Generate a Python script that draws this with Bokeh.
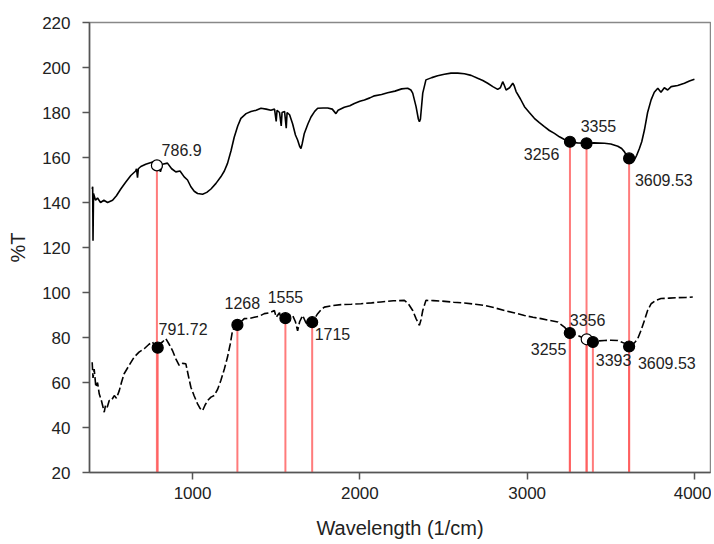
from bokeh.plotting import figure
from bokeh.models import ColumnDataSource, FixedTicker, Range1d
from bokeh.core.properties import value
from bokeh.embed import file_html
from bokeh.resources import INLINE

# ---- upper spectrum (solid) ----
wn_top = [400, 403, 405, 408, 420, 432, 450, 470, 492, 522, 545, 571, 600, 631, 660, 665, 671, 676,
          691, 720, 761, 787, 800, 808, 820, 850, 875, 900, 925, 950, 970, 990, 1010, 1030, 1060,
          1085, 1110, 1140, 1169, 1190, 1209, 1230, 1249, 1270, 1289, 1320, 1349, 1380, 1409, 1440,
          1468, 1490, 1500, 1505, 1520, 1530, 1535, 1550, 1560, 1565, 1580, 1598, 1615, 1628, 1640,
          1648, 1655, 1668, 1690, 1708, 1730, 1748, 1780, 1808, 1835, 1857, 1870, 1907, 1940, 1967,
          2000, 2027, 2060, 2087, 2130, 2166, 2210, 2250, 2286, 2305, 2316, 2336, 2350, 2356, 2362,
          2376, 2395, 2430, 2465, 2505, 2545, 2585, 2625, 2665, 2704, 2735, 2764, 2795, 2824, 2840,
          2854, 2864, 2874, 2895, 2914, 2922, 2934, 2960, 2984, 3013, 3043, 3073, 3103, 3133, 3163,
          3193, 3223, 3256, 3300, 3356, 3400, 3462, 3500, 3542, 3565, 3582, 3600, 3609, 3625, 3641,
          3655, 3671, 3685, 3701, 3720, 3741, 3760, 3781, 3800, 3820, 3840, 3861, 3900, 3940, 3970,
          4000]
t_top = [146, 147, 123, 144, 141, 142, 140, 141, 140, 141, 143, 146, 149, 152, 154, 155, 151, 155,
         156, 157, 158, 157, 156, 153.6, 157, 157.5, 155, 153.6, 154, 151.4, 150, 147, 145, 144, 143.7,
         144.5, 146, 148.5, 151.4, 154, 157.4, 163, 169, 174, 177.4, 179.5, 180.4, 181, 181.9, 181.5,
         181, 181.5, 176, 181, 180, 174, 180, 180.5, 173, 180, 179, 175, 170, 167.8, 165,
         164, 166, 170.7, 175, 178, 180.5, 181.9, 182, 182, 181.5, 179.5, 181, 182.3, 183, 184,
         185, 185.6, 186.5, 187.4, 188, 188.8, 189.5, 190.5, 190.8, 190, 188.6, 182.6, 177, 175.9, 177,
         188.6, 194.5, 195.5, 196.3, 197, 197.5, 197.5, 197.2, 196.5, 195.2, 194.2, 193, 191.5, 190.3, 191,
         193.7, 192, 190, 191, 193, 192, 189.3, 186, 182.6, 180, 177.4, 175.5, 173.7, 172, 170.7,
         169.2, 168, 167, 166.5, 166.3, 166.5, 166.3, 166, 165, 164, 162.5, 160, 159.6, 158, 158.9,
         161, 164, 167, 172.2, 180, 185.6, 189, 190.8, 189, 191, 190, 191.5, 192, 193, 194,
         194.8]

# ---- lower spectrum (dashed) ----
wn_bot = [400, 405, 412, 422, 432, 442, 455, 465, 472, 480, 490, 502, 515, 532, 545, 562, 575, 591,
          620, 651, 680, 711, 740, 761, 781, 800, 820, 840, 860, 880, 900, 920, 940, 960, 975, 990,
          1010, 1030, 1045, 1060, 1075, 1090, 1110, 1130, 1150, 1169, 1190, 1209, 1225, 1239, 1255,
          1268, 1290, 1309, 1340, 1369, 1400, 1429, 1460, 1489, 1500, 1520, 1530, 1540, 1555, 1575,
          1598, 1615, 1628, 1640, 1658, 1675, 1688, 1715, 1730, 1748, 1770, 1788, 1840, 1887, 1950,
          2007, 2070, 2126, 2200, 2266, 2290, 2316, 2336, 2356, 2366, 2376, 2395, 2440, 2485, 2560,
          2625, 2690, 2744, 2800, 2864, 2920, 2984, 3035, 3083, 3135, 3183, 3223, 3255, 3303, 3356,
          3393, 3430, 3462, 3500, 3542, 3580, 3609.53, 3640, 3661, 3680, 3701, 3720, 3741, 3770, 3800,
          3850, 3900, 3950, 3990]
t_bot = [69, 62, 66, 58, 60, 55, 52, 49, 46.8, 50, 49, 52, 52, 54.2, 53, 56.4, 60, 63.9,
         67.5, 71.3, 73.5, 75, 77, 78, 75, 77, 78, 79.5, 77, 74.2, 70.5, 67.6, 68.5, 68.3, 63, 57.9,
         54, 50.5, 48.5, 47.5, 50, 52, 53.5, 54.2, 57, 60.9, 66, 71.3, 77, 83.1, 85,
         85.4, 87, 88.4, 88.5, 89, 89.5, 90.6, 91, 92, 89, 91, 87.5, 90, 88.4, 90,
         89.8, 87, 83, 87, 89.8, 87, 85.4, 86.6, 88.5, 90.6, 92.5, 93.5, 94.2, 94.6, 94.8,
         95, 95.4, 95.8, 96.3, 96.5, 95, 92, 88.4, 85.4, 88, 92, 96.5, 96.4, 96.2, 95.7,
         95.3, 94.8, 94.3, 93.3, 92, 91, 89.8, 89, 88.4, 87.6, 86.9, 84.6, 82, 80.9, 79.1,
         78, 78.5, 78.7, 78.8, 78.7, 77.5, 76, 77.5, 79.5, 83, 87.6, 92, 95, 96.5, 97.3,
         97.5, 97.7, 97.8, 98]

# ---- marked peaks ----
mk_top_x = [786.9, 3256, 3355, 3609.53]
mk_top_y = [156.5, 167, 166.3, 159.6]
mk_top_fill = ["white", "black", "black", "black"]

mk_bot_x = [791.72, 1268, 1555, 1715, 3255, 3356, 3393, 3609.53]
mk_bot_y = [75.5, 85.6, 88.6, 86.8, 82, 79.2, 78, 76]
mk_bot_fill = ["black", "black", "black", "black", "black", "white", "black", "black"]

# ---- peak labels ----
lab_text = ["786.9", "3256", "3355", "3609.53", "791.72", "1268", "1555", "1715",
            "3255", "3356", "3393", "3609.53"]
lab_x = [815, 2980, 3320, 3644, 797, 1191, 1449, 1730, 3022, 3255, 3410, 3662]
lab_y = [163.3, 161.5, 174, 150, 84, 95.2, 98, 81.4, 75, 87.6, 69.8, 68.5]

x_ticks = [1000, 2000, 3000, 4000]
y_ticks = [20, 40, 60, 80, 100, 120, 140, 160, 180, 200, 220]

FONT = "Liberation Sans"

p = figure(width=711, height=543, output_backend="svg", toolbar_location=None,
           x_range=Range1d(384, 4096), y_range=Range1d(20, 220),
           min_border_left=89, min_border_right=1, min_border_top=22, min_border_bottom=71)
p.xgrid.visible = False
p.ygrid.visible = False
p.outline_line_color = "#888888"
p.outline_line_width = 1.5
p.background_fill_color = "white"
p.border_fill_color = "white"

# red drop lines
all_x = mk_top_x + mk_bot_x
all_y = mk_top_y + mk_bot_y
p.segment(x0=all_x, y0=[20] * len(all_x), x1=all_x, y1=all_y,
          line_color="#ff5a5a", line_width=2, line_alpha=0.8)

p.line(wn_top, t_top, line_color="black", line_width=1.6)
p.line(wn_bot, t_bot, line_color="black", line_width=1.6, line_dash="8 3")

p.scatter(mk_top_x, mk_top_y, size=11, fill_color=mk_top_fill, line_color="black", line_width=1.2)
p.scatter(mk_bot_x, mk_bot_y, size=11, fill_color=mk_bot_fill, line_color="black", line_width=1.2)

src = ColumnDataSource(dict(x=lab_x, y=lab_y, t=lab_text))
p.text(x="x", y="y", text="t", source=src, text_font=value(FONT), text_font_size="16px",
       text_color="#222222", text_align="left", text_baseline="middle")

for ax in (p.xaxis[0], p.yaxis[0]):
    ax.axis_line_color = "#555555"
    ax.axis_line_width = 1.5
    ax.major_tick_line_color = "#555555"
    ax.major_tick_line_width = 1.5
    ax.major_tick_in = 0
    ax.major_tick_out = 7
    ax.minor_tick_line_color = None
    ax.major_label_text_font = FONT
    ax.major_label_text_font_size = "17px"
    ax.major_label_text_color = "#222222"
    ax.axis_label_text_font = FONT
    ax.axis_label_text_font_size = "20px"
    ax.axis_label_text_font_style = "normal"
    ax.axis_label_text_color = "#222222"

p.xaxis.ticker = FixedTicker(ticks=x_ticks)
p.yaxis.ticker = FixedTicker(ticks=y_ticks)
p.xaxis.axis_label = "Wavelength (1/cm)"
p.yaxis.axis_label = "%T"
p.xaxis.major_label_standoff = 7
p.xaxis.axis_label_standoff = 15
p.yaxis.major_label_standoff = 12
p.yaxis.axis_label_standoff = 10

open("out.html", "w").write(file_html(p, INLINE))
